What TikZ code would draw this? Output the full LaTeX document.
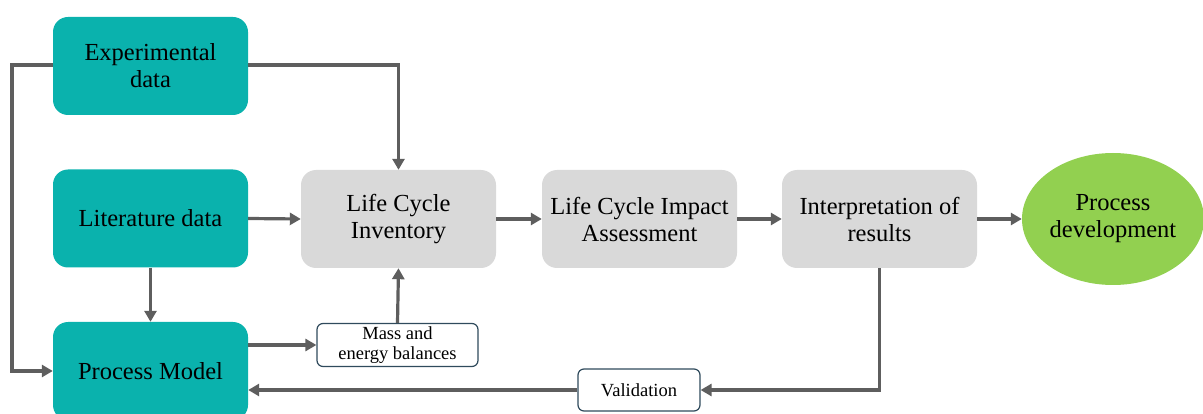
\documentclass[tikz,border=0pt]{standalone}
\usepackage{fontspec}
\setmainfont{Liberation Serif}
\usetikzlibrary{arrows.meta,shapes.geometric}
\definecolor{tealbox}{HTML}{0AB2AD}
\definecolor{graybox}{HTML}{D9D9D9}
\definecolor{greenell}{HTML}{92D050}
\definecolor{arrcol}{HTML}{5E5E5E}
\definecolor{navyline}{HTML}{2F4A5C}
\begin{document}
\begin{tikzpicture}[x=1pt,y=-1pt,
  bigbox/.style={rounded corners=15pt, minimum width=195pt, minimum height=98pt, align=center, inner sep=0pt, font=\fontsize{24.5}{27}\selectfont},
  tealnode/.style={bigbox, fill=tealbox},
  graynode/.style={bigbox, fill=graybox},
  smallbox/.style={rounded corners=6pt, draw=navyline, line width=1.2pt, fill=white, align=center, inner sep=0pt, font=\fontsize{18.5}{20}\selectfont},
  conn/.style={draw=arrcol, line width=3.2pt, -{Triangle[length=11pt,width=12pt]}}
]
\useasboundingbox (0,0) rectangle (1203,414);
\clip (0,0) rectangle (1203,414);

\node[tealnode] (exp) at (150.5,66) {Experimental\\data};
\node[tealnode] (lit) at (150.5,218.5) {Literature data};
\node[tealnode] (pm) at (150.5,371) {Process Model};
\node[graynode] (lci) at (398.5,219) {Life Cycle\\Inventory};
\node[graynode] (lcia) at (639.5,219) {Life Cycle Impact\\Assessment};
\node[graynode] (interp) at (879.5,219) {Interpretation of\\results};
\node[ellipse, fill=greenell, minimum width=182pt, minimum height=132pt, inner sep=0pt, align=center, font=\fontsize{24.5}{27}\selectfont] (pd) at (1113,219) {Process\\development};
\node[smallbox, minimum width=161pt, minimum height=43pt] (mass) at (397.5,345) {Mass and\\energy balances};
\node[smallbox, minimum width=122pt, minimum height=42pt] (val) at (639,390) {Validation};

\coordinate (lt) at (12,65);
\draw[conn] (exp.east |- lt) -| (lci.north);
\draw[conn] (exp.west |- lt) -- (lt) |- (pm.west);
\draw[conn] (lit.east) -- (lci.west);
\draw[conn] (lit.south) -- (pm.north);
\draw[conn] (pm.east |- mass.west) -- (mass.west);
\draw[conn] (mass.north) -- (lci.south);
\draw[conn] (lci.east) -- (lcia.west);
\draw[conn] (lcia.east) -- (interp.west);
\draw[conn] (interp.east) -- (pd.west);
\draw[conn] (interp.south) |- (val.east);
\draw[conn] (val.west) -- (pm.east |- val.west);
\end{tikzpicture}
\end{document}
